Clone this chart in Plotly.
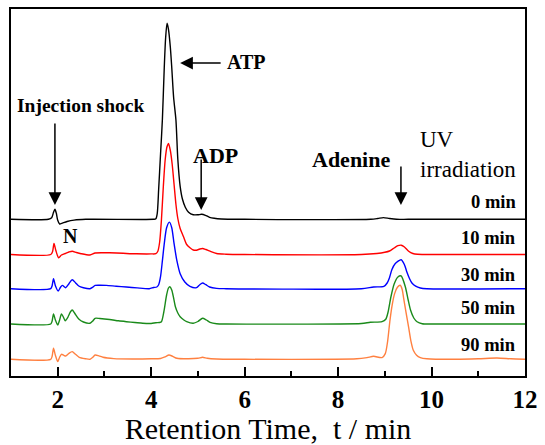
import plotly.graph_objects as go

# ---- data (retention time in min, signal height above each trace's baseline) ----
labels = ["0 min", "10 min", "30 min", "50 min", "90 min"]
colors = ["#000000", "#ff0000", "#0000ff", "#1a8a1a", "#ff8040"]
offsets = [156.7, 121.5, 87.3, 52.0, 16.7]

t_0 = [1.0, 1.8, 1.87, 1.91, 1.94, 1.97, 2.0, 2.04, 2.1, 2.2, 2.35, 2.6, 4.05, 4.1, 4.13, 4.16, 4.2,
       4.24, 4.28, 4.31, 4.34, 4.37, 4.41, 4.44, 4.48, 4.53, 4.57, 4.62, 4.67, 4.73, 4.8, 4.9, 5.0,
       5.08, 5.16, 5.25, 5.35, 5.5, 6.0, 8.7, 8.85, 8.97, 9.1, 9.25, 9.5, 12.0]
s_0 = [0, 0, 1.5, 7, 10, 6, -1, -4.7, -3.8, -2.2, -0.8, 0, 0, 0.5, 6, 30, 65,
       100, 152, 182, 196, 190, 172, 152, 122, 99, 60, 33, 20, 12, 7, 4.5, 4.5,
       5, 4, 2, 1, 0.3, 0, 0, 0.8, 1.7, 0.8, 0, 0, 0]

t_10 = [1.0, 1.85, 1.89, 1.92, 1.96, 2.02, 2.08, 2.16, 2.24, 2.31, 2.4, 2.5, 2.69, 2.8, 2.95, 3.11,
        3.4, 3.68, 4.0, 4.1, 4.14, 4.18, 4.22, 4.26, 4.3, 4.34, 4.37, 4.41, 4.45, 4.49, 4.53, 4.57,
        4.62, 4.69, 4.76, 4.83, 4.9, 4.97, 5.04, 5.1, 5.17, 5.26, 5.4, 5.6, 6.0, 8.5, 8.83, 9.0,
        9.1, 9.2, 9.28, 9.35, 9.42, 9.51, 9.6, 9.7, 9.9, 12.0]
s_10 = [0, 0, 3, 11, 4, -3.3, -0.5, 1, 2.5, 3.3, 2, 0.8, -0.5, 1.5, 1.8, 1.7,
        1.2, 0.7, 0.6, 0.8, 3, 12, 35, 68, 95, 108, 111, 104, 90, 70, 50, 36,
        26, 18, 10, 6.7, 4.5, 4.3, 5.5, 6, 5, 3.3, 1, 0.3, 0, 0, 1, 2.2,
        3.5, 6.5, 8.8, 9.3, 7.5, 3.3, 1, 0.2, 0, 0]

t_30 = [1.0, 1.85, 1.88, 1.91, 1.95, 2.01, 2.06, 2.1, 2.17, 2.24, 2.31, 2.38, 2.45, 2.55, 2.69, 2.75,
        2.8, 2.9, 3.04, 3.25, 3.47, 3.7, 3.96, 4.05, 4.12, 4.16, 4.2, 4.24, 4.28, 4.33, 4.39, 4.44,
        4.49, 4.55, 4.62, 4.72, 4.83, 4.97, 5.04, 5.1, 5.17, 5.25, 5.4, 5.6, 8.5, 8.76, 8.98, 9.05,
        9.1, 9.15, 9.22, 9.35, 9.42, 9.47, 9.53, 9.58, 9.66, 9.76, 9.9, 12.0]
s_30 = [0, 0, 3, 10, 3, -2.3, 1.5, 3.3, 1, 5, 9, 6, 2.7, 1, 0, 1.5,
        3.3, 3.5, 3.3, 2.5, 1.7, 0.8, 0, 1.2, 1.7, 4, 12, 28, 45, 61, 66.6, 61,
        45, 28, 15, 6.7, 2.3, 1, 4, 5.7, 4, 1.7, 0.3, 0, 0, 1.7, 2.3, 5.7,
        11, 19, 25, 29, 24, 17, 10, 5.7, 2.5, 0.7, 0, 0]

t_50 = [1.0, 1.85, 1.88, 1.91, 1.95, 2.0, 2.04, 2.08, 2.12, 2.16, 2.22, 2.27, 2.31, 2.36, 2.45, 2.55,
        2.69, 2.75, 2.8, 2.9, 3.11, 3.3, 3.47, 3.65, 3.82, 4.0, 4.1, 4.18, 4.22, 4.27, 4.33, 4.37,
        4.4, 4.44, 4.48, 4.52, 4.57, 4.62, 4.7, 4.76, 4.9, 5.0, 5.1, 5.18, 5.26, 5.4, 5.6, 8.5,
        8.69, 8.94, 9.02, 9.07, 9.13, 9.2, 9.28, 9.35, 9.44, 9.5, 9.55, 9.62, 9.69, 9.8, 10.0, 12.0]
s_50 = [0, 0, 3, 10, 4, -1, 4, 10, 7, 3.3, 7, 12, 14, 11, 5, 2,
        0.7, 3, 5.7, 5.5, 4.5, 3.2, 2.3, 1.5, 0.7, 0.5, 1.3, 1.5, 2.3, 12, 29, 36,
        37.3, 34, 26, 17, 11, 7.3, 4, 2.3, 0.7, 2.5, 5.7, 4, 1.7, 0.3, 0, 0.5,
        1.7, 2.3, 4.7, 12, 27, 40, 47, 48, 37, 24, 14, 6, 2.3, 0.3, 0, 0]

t_90 = [1.0, 1.85, 1.88, 1.91, 1.95, 2.0, 2.04, 2.08, 2.13, 2.17, 2.24, 2.31, 2.38, 2.46, 2.6, 2.69,
        2.75, 2.8, 2.88, 2.97, 3.2, 3.6, 4.0, 4.2, 4.3, 4.38, 4.46, 4.55, 4.8, 5.0, 5.1, 5.2,
        5.4, 6.0, 8.4, 8.62, 8.76, 8.94, 9.01, 9.06, 9.11, 9.16, 9.21, 9.27, 9.33, 9.37, 9.4, 9.45,
        9.51, 9.56, 9.61, 9.68, 9.76, 9.9, 10.5, 11.0, 11.4, 11.7, 12.0]
s_90 = [0, 0, 3, 11, 4, -2.3, 2, 5, 4, 3.3, 6, 7.7, 5, 2, 0.5, 0,
        2, 4.3, 3.5, 2, 0.7, 0.3, 0.5, 0.8, 2.5, 4.3, 3, 1, 0.5, 1, 2, 1,
        0.3, 0, 0.5, 1.7, 3, 1.7, 5.7, 18, 39, 55, 65.7, 72, 74, 70, 62, 48,
        32, 18, 9, 4, 1.7, 0.5, 0, 0.5, 1.3, 0.5, 0]

times = [t_0, t_10, t_30, t_50, t_90]
signals = [s_0, s_10, s_30, s_50, s_90]

x_ticks = [2, 4, 6, 8, 10, 12]

SERIF = "Liberation Serif, Times New Roman, Times, DejaVu Serif, serif"

fig = go.Figure()
for t, s, off, c, name in zip(times, signals, offsets, colors, labels):
    fig.add_trace(go.Scatter(
        x=t, y=[v + off for v in s], mode="lines", name=name,
        line=dict(color=c, width=1.4, shape="spline", smoothing=0.7),
        showlegend=False, hoverinfo="skip"))

ann = []
def txt(x, y, text, size, bold=True, xanchor="center"):
    ann.append(dict(x=x, y=y, xref="x", yref="y",
                    text=f"<b>{text}</b>" if bold else text, showarrow=False,
                    xanchor=xanchor, yanchor="middle",
                    font=dict(family=SERIF, size=size, color="black")))

def arrow(x, y, ax, ay):
    ann.append(dict(x=x, y=y, xref="x", yref="y", text="", showarrow=True,
                    ax=ax, ay=ay, arrowhead=2, arrowsize=1.7, arrowwidth=1.5,
                    arrowcolor="black"))

txt(2.48, 271, "Injection shock", 19.5)
arrow(1.94, 171, 0, -83)
txt(6.05, 314, "ATP", 20)
arrow(4.62, 313, 42, 0)
txt(5.38, 221, "ADP", 22)
arrow(5.07, 166, 0, -52)
txt(8.28, 217, "Adenine", 22)
arrow(9.345, 171, 0, -40)
txt(9.715, 237, "UV", 23, bold=False, xanchor="left")
txt(9.715, 207, "irradiation", 23, bold=False, xanchor="left")
txt(2.27, 140, "N", 20)
for name, yy in zip(labels, [174.5, 138, 101, 68, 31]):
    txt(11.84, yy, name, 18.5, xanchor="right")

fig.update_layout(
    width=545, height=445,
    margin=dict(l=11, r=20, t=9, b=69),
    paper_bgcolor="white", plot_bgcolor="white",
    annotations=ann,
    xaxis=dict(range=[1, 12], tickmode="array", tickvals=x_ticks,
               ticktext=[f"<b>{v}</b>" for v in x_ticks],
               ticks="inside", ticklen=9, tickwidth=2, tickcolor="black",
               minor=dict(dtick=1, tick0=1, ticks="inside",
                          ticklen=5, tickwidth=2, tickcolor="black"),
               showline=True, linewidth=2, linecolor="black", mirror=True,
               showgrid=False, zeroline=False, automargin=False,
               tickfont=dict(family=SERIF, size=25, color="black"),
               title=dict(text="Retention Time,  t / min", standoff=9,
                          font=dict(family=SERIF, size=30, color="black"))),
    yaxis=dict(range=[0, 367], showticklabels=False, ticks="", showgrid=False,
               zeroline=False, showline=True, linewidth=2, linecolor="black", mirror=True,
               automargin=False),
)

fig.write_html("out.html")
